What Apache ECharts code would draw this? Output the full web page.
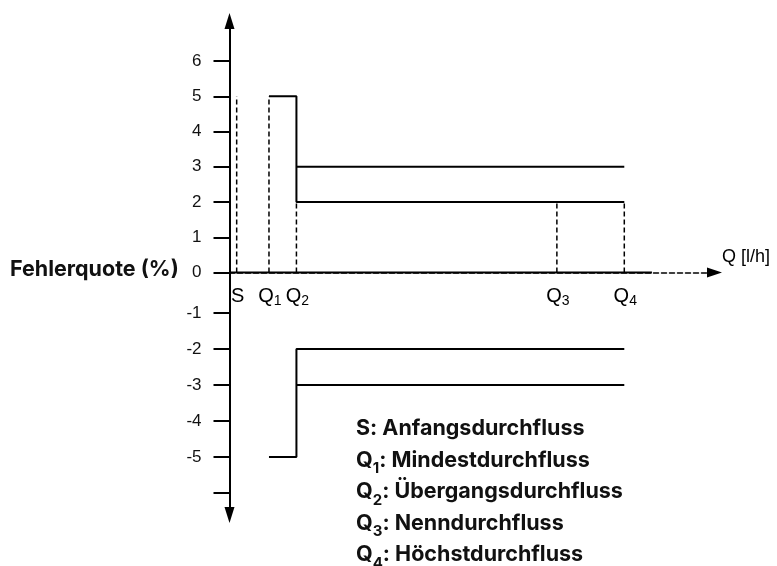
<!DOCTYPE html>
<html><head><meta charset="utf-8">
<script src="https://cdn.jsdelivr.net/npm/echarts@6/dist/echarts.min.js"></script>
<style>html,body{margin:0;padding:0;background:#fff}#c{width:777px;height:566px}</style>
</head><body><div id="c"></div>
<script>
// ---- data ----
const markNames = ['S', 'Q1', 'Q2', 'Q3', 'Q4'];
const markFlow = [1.48, 8.14, 13.8, 67.5, 81.4];    // position on the (qualitative) flow axis
const markTop = [5, 5, 2, 2, 2];                    // dashed guide heights (%)
const lowFlowError = [5, -5];                       // error limits between Q1 and Q2 (%)
const upperErrors = [3, 2];                         // upper limits between Q2 and Q4 (%)
const lowerErrors = [-2, -3];                       // lower limits between Q2 and Q4 (%)
const posTicks = [0, 1, 2, 3, 4, 5, 6];
const negTicks = [-1, -2, -3, -4, -5, -6];
const negLabels = [-1, -2, -3, -4, -5];
const solidAxisEnd = [87.1];
const legendNames = ['S', 'Q1', 'Q2', 'Q3', 'Q4'];
const legendTexts = ['Anfangsdurchfluss', 'Mindestdurchfluss', 'Übergangsdurchfluss', 'Nenndurchfluss', 'Höchstdurchfluss'];
const yName = 'Fehlerquote (%)';
const xName = 'Q [l/h]';

// ---- chart ----
const chart = echarts.init(document.getElementById('c'), null, {renderer: 'canvas'});
const q1 = markFlow[1], q2 = markFlow[2], q4 = markFlow[4];
const solid = {color: '#000', width: 2};
const dashed = {color: '#000', width: 1.5, type: [5, 3]};

function lineSeries(data, style, grid) {
  return {type: 'line', xAxisIndex: grid, yAxisIndex: grid, data: data, symbol: 'none',
    lineStyle: style, clip: false, silent: true, animation: false, z: 3};
}
const series = [];
markFlow.forEach((x, i) => series.push(lineSeries([[x, 0], [x, markTop[i]]], dashed, 0)));
series.push(lineSeries([[0, 0], [solidAxisEnd[0], 0]], solid, 0));
series.push(lineSeries([[q1, lowFlowError[0]], [q2, lowFlowError[0]], [q2, upperErrors[1]], [q4, upperErrors[1]]], solid, 0));
series.push(lineSeries([[q2, upperErrors[0]], [q4, upperErrors[0]]], solid, 0));
series.push(lineSeries([[q1, lowFlowError[1]], [q2, lowFlowError[1]], [q2, lowerErrors[0]], [q4, lowerErrors[0]]], solid, 1));
series.push(lineSeries([[q2, lowerErrors[1]], [q4, lowerErrors[1]]], solid, 1));

const arialFont = '"Liberation Sans", Arial, sans-serif';
const tickLabelStyle = {color: '#111', fontSize: 17, fontFamily: arialFont, margin: 28};

function legendRich() {
  return legendNames.map((n, i) => {
    const head = n.length > 1 ? '{b|' + n[0] + '}{s|' + n.slice(1) + '}' : '{b|' + n + '}';
    return head + '{b|: ' + legendTexts[i] + '}';
  }).join('\n');
}
const boldFont = 'Inter, Roboto, sans-serif';

chart.setOption({
  backgroundColor: '#fff',
  animation: false,
  grid: [
    {left: 229.5, top: 21, width: 485, height: 251.5, outerBoundsMode: 'none', containLabel: false},
    {left: 229.5, top: 272.5, width: 485, height: 242.5, outerBoundsMode: 'none', containLabel: false}
  ],
  xAxis: [
    {gridIndex: 0, type: 'value', min: 0, max: 100,
      axisLine: {show: true, onZero: true, symbol: ['none', 'triangle'], symbolSize: [10, 15], lineStyle: dashed},
      axisTick: {show: false}, splitLine: {show: false},
      axisLabel: {show: true, customValues: markFlow, margin: 12,
        formatter: (v) => {
          const i = markFlow.indexOf(v); const n = markNames[i] || '';
          return n.length > 1 ? '{m|' + n[0] + '}{s|' + n.slice(1) + '}' : '{m|' + n + '}';
        },
        rich: {
          m: {fontSize: 20, fontFamily: arialFont, color: '#000', lineHeight: 24, padding: [0, 0, 0, 2]},
          s: {fontSize: 14, fontFamily: arialFont, color: '#000', lineHeight: 14, verticalAlign: 'bottom'}
        }}
    },
    {gridIndex: 1, type: 'value', min: 0, max: 100, show: false}
  ],
  yAxis: [
    {gridIndex: 0, type: 'value', min: 0, max: 7.135,
      axisLine: {show: true, onZero: false, symbol: ['none', 'triangle'], symbolSize: [10, 16], lineStyle: solid},
      axisTick: {show: true, length: 16, customValues: posTicks, lineStyle: solid},
      axisLabel: Object.assign({customValues: posTicks, showMinLabel: true}, tickLabelStyle),
      splitLine: {show: false}},
    {gridIndex: 1, type: 'value', min: -6.611, max: 0.125,
      axisLine: {show: true, onZero: false, symbol: ['triangle', 'none'], symbolSize: [10, 16], lineStyle: solid},
      axisTick: {show: true, length: 16, customValues: negTicks, lineStyle: solid},
      axisLabel: Object.assign({customValues: negLabels}, tickLabelStyle),
      splitLine: {show: false}}
  ],
  graphic: [
    {type: 'text', left: 10, top: 259, style: {text: yName, fill: '#111', font: 'bold 21.5px ' + boldFont}},
    {type: 'text', left: 722, top: 248, style: {text: xName, fill: '#000', font: '18px ' + arialFont}},
    {type: 'text', left: 356, top: 418, style: {
      text: legendRich(), fill: '#111',
      rich: {
        b: {fontSize: 21.5, fontWeight: 'bold', fontFamily: boldFont, fill: '#111', lineHeight: 31.5},
        s: {fontSize: 15, fontWeight: 'bold', fontFamily: boldFont, fill: '#111', lineHeight: 17, verticalAlign: 'bottom'}
      }}}
  ],
  series: series
});
</script></body></html>
